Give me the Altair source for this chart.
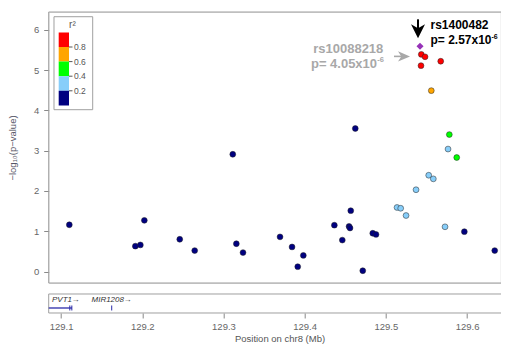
import altair as alt
import pandas as pd

FONT = "Liberation Sans"

# ---------------- data ----------------
# r2 bins: 0.1 (<0.2), 0.3 (0.2-0.4), 0.5 (0.4-0.6), 0.7 (0.6-0.8), 0.9 (>0.8)
snp_pos = [129.1102, 129.1915, 129.1977, 129.2026, 129.2462, 129.2646, 129.3115,
           129.3159, 129.3241, 129.3697, 129.3845, 129.3915, 129.3984, 129.4366,
           129.4464, 129.4547, 129.4559, 129.4568, 129.4624, 129.4716, 129.4839,
           129.4879, 129.5967, 129.6341,
           129.5138, 129.5183, 129.5249, 129.5372, 129.5528, 129.5585, 129.5729, 129.5766,
           129.5782, 129.5873,
           129.5560,
           129.5437, 129.5483, 129.5433, 129.5676]
snp_logp = [1.16, 0.63, 0.66, 1.27, 0.80, 0.52, 2.91,
            0.69, 0.47, 0.86, 0.61, 0.12, 0.40, 1.15,
            0.78, 1.12, 1.08, 1.51, 3.55, 0.02, 0.95,
            0.92, 0.99, 0.52,
            1.59, 1.57, 1.39, 2.03, 2.39, 2.30, 1.11, 3.04,
            3.40, 2.83,
            4.49,
            5.39, 5.33, 5.11, 5.22]
snp_r2 = [0.1] * 24 + [0.3] * 8 + [0.5] * 2 + [0.7] * 1 + [0.9] * 4

lead_name = ["rs1400482"]
lead_pos = [129.5421]
lead_logp = [5.59]
lead_p = ["p= 2.57x10"]

second_name = ["rs10088218"]
second_pos = [129.5437]
second_logp = [5.39]
second_p = ["p= 4.05x10"]

gene_names = ["PVT1", "MIR1208"]
gene_start = [128.806779, 129.162362]
gene_end = [129.113499, 129.162444]
exon_pos = [129.1108, 129.1133, 129.1624]

legend_colors = ["#FF0000", "#FFA500", "#00FF00", "#87CEFA", "#000080"]
legend_breaks = ["0.8", "0.6", "0.4", "0.2"]

x_ticks = [129.1, 129.2, 129.3, 129.4, 129.5, 129.6]
y_ticks = [0, 1, 2, 3, 4, 5, 6]

# ---------------- layout ----------------
LEFT = 40.7
W, H = 452, 271
X_DOM = [129.0848, 129.0848 + W / 812.0]
Y_DOM = [-0.285, 6.442]
GAP, GH = 11, 19                 # gene-track gap and height
G0, G1 = H + GAP, H + GAP + GH   # gene-track box, pixels from plot top
PX_PER_MB = W / (X_DOM[1] - X_DOM[0])
PX_PER_UNIT = H / (Y_DOM[1] - Y_DOM[0])
FRAME = "#A0A0A0"
GRAY = "#A8A8A8"

xs = alt.Scale(domain=X_DOM, nice=False, zero=False, clamp=True)
ys = alt.Scale(domain=Y_DOM, nice=False, zero=False)

snp = pd.DataFrame({"pos": snp_pos, "logp": snp_logp, "r2": snp_r2})
lead = pd.DataFrame({"pos": lead_pos, "logp": lead_logp, "name": lead_name, "p": lead_p})
second = pd.DataFrame({"pos": second_pos, "logp": second_logp, "name": second_name, "p": second_p})
one = pd.DataFrame({"a": [0]})

color_scale = alt.Scale(type="threshold", domain=[0.2, 0.4, 0.6, 0.8],
                        range=legend_colors[::-1])

X = alt.X("pos:Q", scale=xs,
          axis=alt.Axis(values=x_ticks, format=".1f", title="Position on chr8 (Mb)",
                        titleX=(279.5 - 8 - LEFT), offset=GAP + GH, grid=False, domain=False,
                        tickColor="#888", tickSize=5, labelColor="#666", labelFontSize=9.5,
                        labelPadding=4, titleColor="#555", titleFontSize=9.5,
                        titleFontWeight="normal", titlePadding=2))
Y = alt.Y("logp:Q", scale=ys,
          axis=alt.Axis(values=y_ticks, format="d", title="−log₁₀(p−value)",
                        grid=False, domain=False, tickColor="#888", tickSize=5,
                        labelColor="#666", labelFontSize=9.5, labelPadding=5,
                        titleColor="#556", titleFontSize=9.5, titleFontWeight="normal",
                        titleX=-36.5, titleY=H / 2, titleAngle=270, titleAlign="center",
                        titleBaseline="middle"))

# frames (top, left, bottom of the plot; gene-track box)
frame_h = alt.Chart(one).mark_rule(color=FRAME, strokeWidth=1).encode(
    x=alt.value(0), x2=alt.value(W + 5), y=alt.value(0))
frame_b = alt.Chart(one).mark_rule(color=FRAME, strokeWidth=1).encode(
    x=alt.value(0), x2=alt.value(W + 5), y=alt.value(H))
frame_l = alt.Chart(one).mark_rule(color=FRAME, strokeWidth=1).encode(
    x=alt.value(0), y=alt.value(0), y2=alt.value(H))
gbox_t = alt.Chart(one).mark_rule(color=FRAME, strokeWidth=1).encode(
    x=alt.value(0), x2=alt.value(W + 5), y=alt.value(G0))
gbox_b = alt.Chart(one).mark_rule(color=FRAME, strokeWidth=1).encode(
    x=alt.value(0), x2=alt.value(W + 5), y=alt.value(G1))
gbox_l = alt.Chart(one).mark_rule(color=FRAME, strokeWidth=1).encode(
    x=alt.value(0), y=alt.value(G0), y2=alt.value(G1))

points = alt.Chart(snp).mark_circle(size=34, opacity=1, stroke="#222", strokeWidth=0.5).encode(
    x=X, y=Y,
    color=alt.Color("r2:Q", scale=color_scale, legend=None),
)

lead_pt = alt.Chart(lead).mark_point(shape="diamond", filled=True, size=50, opacity=1,
                                      color="#9632B8").encode(x="pos:Q", y="logp:Q")


def txt(df, field, dx, dy, size, color, align):
    return alt.Chart(df).mark_text(dx=dx, dy=dy, fontSize=size, fontWeight="bold",
                                   color=color, align=align, baseline="alphabetic",
                                   font=FONT).encode(x="pos:Q", y="logp:Q", text=field)


def sup(df, dx, dy, size, color, align):
    return alt.Chart(df).mark_text(text="-6", dx=dx, dy=dy, fontSize=size, fontWeight="bold",
                                   color=color, align=align, baseline="alphabetic",
                                   font=FONT).encode(x="pos:Q", y="logp:Q")


ann = [
    txt(lead, "name:N", 10.5, -17, 12, "black", "left"),
    txt(lead, "p:N", 10.5, -2.5, 12, "black", "left"),
    sup(lead, 71.5, -7, 7, "black", "left"),
    txt(second, "name:N", -38, -1.8, 13, GRAY, "right"),
    txt(second, "p:N", -44.3, 13.2, 13, GRAY, "right"),
    sup(second, -44, 8, 7.5, GRAY, "left"),
]

# arrows (derived from the annotated SNPs)
blk = lead.assign(ax=lead.pos - 2 / PX_PER_MB,
                  y1=lead.logp + 27 / PX_PER_UNIT,
                  y2=lead.logp + 17 / PX_PER_UNIT,
                  yh=lead.logp + 15 / PX_PER_UNIT)
blk_shaft = alt.Chart(blk).mark_rule(color="black", strokeWidth=2).encode(
    x="ax:Q", y="y1:Q", y2="y2:Q")
blk_head = alt.Chart(blk).mark_point(shape="M 0 1 L -1 -1 L 0 -0.45 L 1 -1 Z", filled=True,
                                     size=196, opacity=1, color="black").encode(x="ax:Q", y="yh:Q")

gry = second.assign(x1=second.pos - 27.3 / PX_PER_MB,
                    x2=second.pos - 19 / PX_PER_MB,
                    xh=second.pos - 17.3 / PX_PER_MB,
                    ay=second.logp - 2 / PX_PER_UNIT)
gry_shaft = alt.Chart(gry).mark_rule(color=GRAY, strokeWidth=1.6).encode(
    x="x1:Q", x2="x2:Q", y="ay:Q")
gry_head = alt.Chart(gry).mark_point(shape="M 1 0 L -1 -0.85 L -0.45 0 L -1 0.85 Z", filled=True,
                                     size=144, opacity=1, color=GRAY).encode(x="xh:Q", y="ay:Q")

# r2 legend (drawn inside the plot, in pixel space)
leg = pd.DataFrame({"color": legend_colors})
leg["i"] = range(len(leg))
leg_box = alt.Chart(one).mark_rect(fill="white", stroke=FRAME, strokeWidth=1).encode(
    x=alt.value(5.3), x2=alt.value(44), y=alt.value(4.7), y2=alt.value(97.7))
leg_bar = alt.Chart(leg).mark_rect().encode(
    x=alt.value(10), x2=alt.value(20.3),
    y=alt.Y("y0:Q", scale=None, axis=None), y2="y1:Q",
    color=alt.Color("color:N", scale=None, legend=None),
).transform_calculate(y0="20.4 + datum.i * 14.6", y1="20.4 + (datum.i + 1) * 14.6")
lab = pd.DataFrame({"lab": legend_breaks})
lab["i"] = range(len(lab))
leg_tick = alt.Chart(lab).mark_rule(color="#555", strokeWidth=1).encode(
    x=alt.value(20.3), x2=alt.value(23.8), y=alt.Y("yb:Q", scale=None, axis=None),
).transform_calculate(yb="35.0 + datum.i * 14.6")
leg_lab = alt.Chart(lab).mark_text(align="left", baseline="middle", fontSize=8.5,
                                   color="#555", font=FONT).encode(
    x=alt.value(25.3), y=alt.Y("yb:Q", scale=None, axis=None), text="lab:N",
).transform_calculate(yb="35.0 + datum.i * 14.6")
leg_title = alt.Chart(pd.DataFrame({"t": ["r²"]})).mark_text(
    align="center", baseline="middle", fontSize=10, color="#555", font=FONT).encode(
    x=alt.value(23.7), y=alt.value(12.5), text="t:N")

# gene track (below the plot)
genes = pd.DataFrame({"gene": gene_names, "start": gene_start, "end": gene_end})
half_label = 17.3 / PX_PER_MB
genes["lx"] = [max((s + e) / 2, X_DOM[0] + half_label) for s, e in zip(gene_start, gene_end)]
genes["label"] = [g + "→" for g in gene_names]
exons = pd.DataFrame({"x": exon_pos})

gene_line = alt.Chart(genes).mark_rule(color="#2A2AA8", strokeWidth=1.3).encode(
    x="start:Q", x2="end:Q", y=alt.value(G0 + 14))
gene_exon = alt.Chart(exons).mark_rule(color="#2A2AA8", strokeWidth=1).encode(
    x="x:Q", y=alt.value(G0 + 11.5), y2=alt.value(G0 + 16.5))
gene_lab = alt.Chart(genes).mark_text(fontSize=8, fontStyle="italic", color="#333",
                                      align="center", baseline="middle", font=FONT).encode(
    x="lx:Q", y=alt.value(G0 + 6), text="label:N")

chart = alt.layer(
    frame_h, frame_b, frame_l, gbox_t, gbox_b, gbox_l,
    leg_box, leg_bar, leg_tick, leg_lab, leg_title,
    points, lead_pt, blk_shaft, blk_head, gry_shaft, gry_head, *ann,
    gene_line, gene_exon, gene_lab,
).properties(
    width=W, height=H,
    autosize=alt.AutoSizeParams(type="none"),
    padding={"left": LEFT, "top": 4, "right": 0, "bottom": 63},
).configure_view(stroke=None).configure(font=FONT)

chart.save("out.html", embed_options={"renderer": "svg", "actions": False})
